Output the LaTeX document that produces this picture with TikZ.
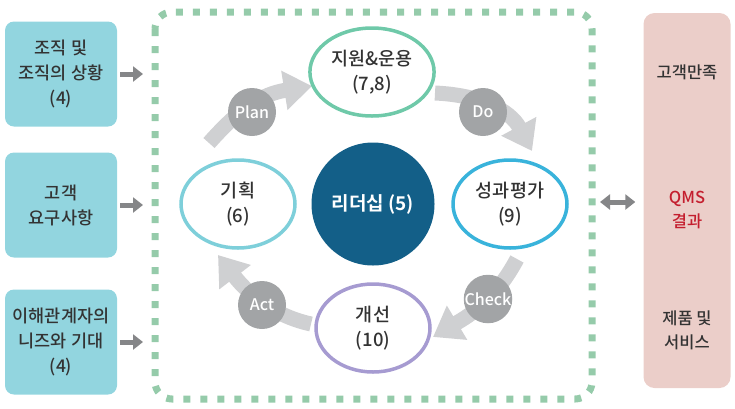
\documentclass[tikz,border=0pt]{standalone}
\usepackage{fontspec}
\setmainfont{Noto Sans CJK KR}[UprightFont=* Medium, BoldFont=* Bold]
\usetikzlibrary{arrows.meta,shapes.geometric,positioning}
\definecolor{boxcyan}{HTML}{92D5DF}
\definecolor{framegreen}{HTML}{95CBAA}
\definecolor{txtgray}{HTML}{333333}
\definecolor{arrgray}{HTML}{858688}
\definecolor{cyclegray}{HTML}{CFD0D2}
\definecolor{dotgray}{HTML}{A2A4A6}
\definecolor{leadblue}{HTML}{135F88}
\definecolor{resultpink}{HTML}{EBCEC9}
\definecolor{qmsred}{HTML}{C41E2E}
\definecolor{edgeteal}{HTML}{6FC9A9}
\definecolor{edgecyan}{HTML}{7ECFDA}
\definecolor{edgeblue}{HTML}{39B3DB}
\definecolor{edgeviolet}{HTML}{A69BD1}
\begin{document}
\begin{tikzpicture}[x=1pt, y=-1pt,
  inbox/.style={fill=boxcyan, rounded corners=9pt, minimum width=112pt,
    minimum height=105pt, align=center, text=txtgray,
    font=\fontsize{17.5}{25}\selectfont},
  inarrow/.style={draw=arrgray, line width=5pt,
    -{Triangle[length=10pt, width=15pt]}},
  cyclearrow/.style={draw=cyclegray, line width=15pt,
    -{Triangle[length=28pt, width=38pt]}},
  stage/.style={ellipse, draw, fill=white, line width=3.5pt,
    minimum width=114pt, minimum height=88pt, align=center, text=txtgray,
    font=\fontsize{18.5}{25}\selectfont},
  pdca/.style={circle, fill=dotgray, minimum size=48pt, inner sep=0pt,
    text=white, font=\fontsize{16}{16}\selectfont},
  restext/.style={align=center, text=txtgray, font=\fontsize{16.5}{24}\selectfont}]
  \useasboundingbox (0,0) rectangle (735,408);

  % inputs
  \node[inbox] (org)   at (61,74)  {조직 및\\조직의 상황\\(4)};
  \node[inbox] (cust)  at (61,205) {고객\\요구사항};
  \node[inbox] (party) at (61,342) {이해관계자의\\니즈와 기대\\(4)};

  % dashed frame
  \draw[framegreen, line width=7pt, dash pattern=on 7pt off 10pt,
    rounded corners=17pt] (155,12) rectangle (592,399);
  \coordinate (frameL) at (155,205);
  \coordinate (frameR) at (592,202);

  \foreach \b in {org,cust,party}
    \draw[inarrow, shorten <=3pt, shorten >=12pt] (\b.east) -- (\b.east -| frameL);

  % cycle arrows
  \coordinate (planA) at (209,143);
  \coordinate (planB) at (312,86);
  \coordinate (doA)   at (435,93);
  \coordinate (doB)   at (532,151);
  \coordinate (chkA)  at (517,259);
  \coordinate (chkB)  at (433,337);
  \coordinate (actA)  at (311,324);
  \coordinate (actB)  at (218,255);
  \draw[cyclearrow] (planA) .. controls (240,108) and (262,94) .. (planB);
  \draw[cyclearrow] (doA) .. controls (480,95) and (510,110) .. (doB);
  \draw[cyclearrow] (chkA) .. controls (495,300) and (470,315) .. (chkB);
  \draw[cyclearrow] (actA) .. controls (270,315) and (245,290) .. (actB);

  \node[pdca] (plan)  at (252,112) {Plan};
  \node[pdca] (do)    at (483,112) {Do};
  \node[pdca] (check) at (488,299) {Check};
  \node[pdca] (act)   at (262,305) {Act};

  % stages
  \node[circle, fill=leadblue, minimum size=123pt, text=white,
    font=\fontsize{19}{19}\selectfont\bfseries] (lead) at (373,204) {리더십 (5)};
  \node[stage, draw=edgeteal]   (supp)  at (372,72)  {지원\&운용\\(7,8)};
  \node[stage, draw=edgecyan]   (plans) at (238,204) {기획\\(6)};
  \node[stage, draw=edgeblue]   (eval)  at (510,204) {성과평가\\(9)};
  \node[stage, draw=edgeviolet] (impr)  at (373,328) {개선\\(10)};

  % results
  \node[fill=resultpink, rounded corners=11pt, minimum width=87pt,
    minimum height=375pt] (res) at (687,200.5) {};
  \node[restext] (sat) at (687,72)  {고객만족};
  \node[restext, text=qmsred] (qms) at (687,210) {QMS\\결과};
  \node[restext] (prod) at (687,330) {제품 및\\서비스};

  \draw[inarrow, {Triangle[length=10pt, width=15pt]}-{Triangle[length=10pt, width=15pt]},
    shorten <=8pt, shorten >=8pt] (frameR) -- (res.west |- frameR);
\end{tikzpicture}
\end{document}
